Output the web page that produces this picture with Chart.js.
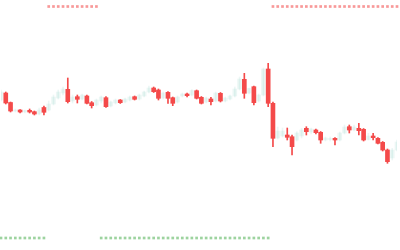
<!DOCTYPE html>
<html>
<head>
<meta charset="utf-8">
<script src="https://cdn.jsdelivr.net/npm/chart.js@4.4.0/dist/chart.umd.min.js"></script>
<style>
html, body { margin: 0; padding: 0; background: #fff; }
#wrap { width: 400px; height: 250px; }
</style>
</head>
<body>
<div id="wrap"><canvas id="myChart"></canvas></div>
<script>
// candle prices
var opens  = [35.00,35.70,34.75,33.90,34.00,33.80,33.97,33.83,33.60,34.25,
              34.00,34.60,35.20,35.70,36.07,34.90,35.33,35.10,35.40,34.73,
              34.50,34.90,35.23,34.40,34.70,35.00,34.80,35.00,35.33,35.10,
              35.40,35.80,36.20,36.00,35.20,35.77,35.23,34.80,35.40,35.60,
              35.50,35.93,35.27,34.80,35.10,34.90,35.67,34.90,35.10,35.40,
              36.10,37.07,35.70,36.33,34.90,35.50,38.10,34.67,31.20,31.40,
              31.50,31.33,31.00,31.40,32.17,31.80,32.00,31.77,31.00,31.05,
              31.17,31.00,31.70,32.33,32.00,32.17,32.07,31.05,31.40,31.17,
              30.77,30.00,29.20,30.00];
var highs  = [36.00,35.80,34.80,34.10,34.05,34.00,34.10,33.90,34.20,34.40,
              34.90,35.50,36.00,36.30,37.20,35.50,35.50,35.60,35.50,34.85,
              35.10,35.40,35.35,34.90,35.10,35.05,35.20,35.40,35.40,35.60,
              35.90,36.40,36.30,36.10,35.80,35.85,35.30,35.40,35.70,35.70,
              36.05,36.00,35.35,35.30,35.27,35.80,35.75,35.30,35.50,36.30,
              37.30,37.67,36.20,36.40,35.60,38.20,38.67,34.80,32.30,32.20,
              32.20,31.50,31.83,32.17,32.33,32.20,32.10,31.85,31.30,31.30,
              31.25,31.80,32.50,32.50,32.50,32.67,32.15,31.67,31.67,31.25,
              30.85,30.10,30.17,31.00];
var lows   = [34.90,34.60,33.80,33.80,33.70,33.70,33.70,33.50,33.50,33.50,
              33.90,34.50,35.10,35.50,34.70,34.70,34.70,35.00,34.60,34.20,
              34.40,34.70,34.25,34.30,34.60,34.65,34.70,34.90,35.00,35.00,
              35.30,35.70,35.75,35.00,35.10,34.67,34.43,34.70,35.30,35.30,
              35.40,35.10,34.60,34.70,34.50,34.80,34.80,34.80,35.00,35.30,
              36.00,35.17,35.60,34.50,34.80,35.40,34.33,30.33,31.10,31.30,
              31.00,29.50,30.90,31.20,31.50,31.60,31.60,30.67,30.90,30.90,
              30.50,30.90,31.60,31.70,31.90,31.50,30.90,31.00,31.00,30.60,
              29.90,28.67,29.00,29.90];
var closes = [35.80,34.70,33.90,34.00,33.80,33.95,33.80,33.60,34.00,33.77,
              34.60,35.30,35.80,36.10,34.83,35.30,35.07,35.50,34.67,34.43,
              35.00,35.30,34.33,34.80,35.00,34.73,35.10,35.30,35.07,35.50,
              35.80,36.20,35.83,35.17,35.70,35.17,34.67,35.30,35.60,35.43,
              35.95,35.17,34.67,35.20,34.83,35.70,34.90,35.20,35.40,36.10,
              37.10,35.67,36.15,34.73,35.50,38.10,34.67,31.17,31.90,31.90,
              31.27,30.33,31.70,32.00,31.83,32.10,31.73,31.00,31.20,31.15,
              31.00,31.70,32.30,32.00,32.30,31.93,31.00,31.40,31.23,30.67,
              30.00,28.83,30.00,30.80];
// trend signal per candle: 1 = green mark below, -1 = red mark above
var signal = [ 1, 1, 1, 1, 1, 1, 1, 1, 1, 1,
              -1,-1,-1,-1,-1,-1,-1,-1,-1,-1,
              -1, 1, 1, 1, 1, 1, 1, 1, 1, 1,
               1, 1, 1, 1, 1, 1, 1, 1, 1, 1,
               1, 1, 1, 1, 1, 1, 1, 1, 1, 1,
               1, 1, 1, 1, 1, 1, 1,-1,-1,-1,
              -1,-1,-1,-1,-1,-1,-1,-1,-1,-1,
              -1,-1,-1,-1,-1,-1,-1,-1,-1,-1,
              -1,-1,-1,-1];
var yMin = 20, yMax = 45;
var markTop = 44.35, markBottom = 21.2;

var upColor = 'rgba(8,153,129,0.08)';
var downColor = '#f44a4a';

var labels = opens.map(function(v, i){ return i + 1; });
var bodies = [], wicks = [], colors = [], topMarks = [], bottomMarks = [];
for (var i = 0; i < opens.length; i++){
    bodies.push([opens[i], closes[i]]);
    wicks.push([lows[i], highs[i]]);
    colors.push(closes[i] >= opens[i] ? upColor : downColor);
    topMarks.push(signal[i] < 0 ? markTop : null);
    bottomMarks.push(signal[i] > 0 ? markBottom : null);
}

const ctx = document.getElementById('myChart');
var myChart = new Chart(ctx, {
    type: 'bar',
    data: {
        labels: labels,
        datasets: [{
            label: 'body',
            data: bodies,
            backgroundColor: colors,
            barThickness: 4,
            grouped: false,
            order: 1
        },
        {
            label: 'wick',
            data: wicks,
            backgroundColor: colors,
            barThickness: 1,
            grouped: false,
            order: 2
        },
        {
            type: 'line',
            label: 'sell',
            data: topMarks,
            showLine: false,
            pointStyle: 'rect',
            pointRadius: 1.9,
            pointBorderWidth: 0,
            pointBackgroundColor: 'rgba(242,70,70,0.55)',
            order: 0
        },
        {
            type: 'line',
            label: 'buy',
            data: bottomMarks,
            showLine: false,
            pointStyle: 'rect',
            pointRadius: 1.9,
            pointBorderWidth: 0,
            pointBackgroundColor: 'rgba(76,175,80,0.55)',
            order: 0
        }]
    },
    options: {
        responsive: true,
        maintainAspectRatio: false,
        animation: false,
        layout: { autoPadding: false, padding: { left: 1, right: 3, top: 0, bottom: 0 } },
        plugins: { legend: { display: false }, tooltip: { enabled: false } },
        scales: {
            x: { display: false, offset: false },
            y: { display: false, min: yMin, max: yMax }
        }
    }
});
</script>
</body>
</html>
